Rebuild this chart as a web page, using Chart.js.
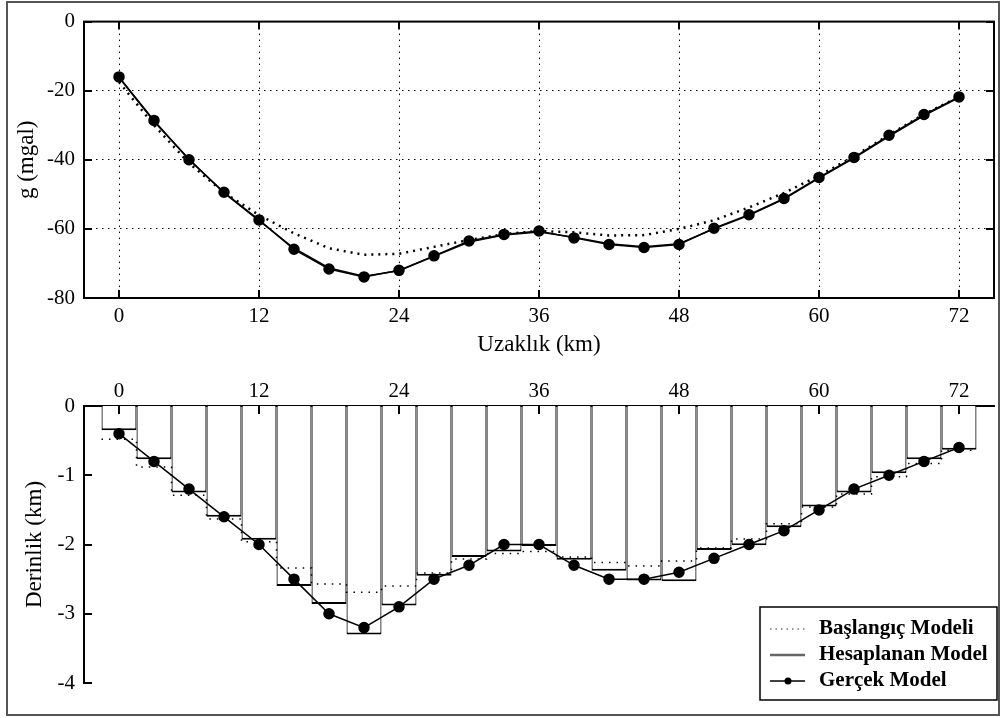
<!DOCTYPE html>
<html>
<head>
<meta charset="utf-8">
<script src="https://cdn.jsdelivr.net/npm/chart.js@4.4.0/dist/chart.umd.min.js"></script>
<style>
  body { margin: 0; background: #fff; }
  #frame { position: absolute; left: 6px; top: 1px; width: 990px; height: 711px; border: 2px solid #555; }
  .box { position: absolute; left: 0; }
  #gravityBox { top: 0; }
  #depthBox { top: 360px; }
</style>
</head>
<body>
<div id="frame"></div>
<div class="box" id="gravityBox"><canvas id="gravityChart" width="1001" height="360"></canvas></div>
<div class="box" id="depthBox"><canvas id="depthChart" width="1001" height="358"></canvas></div>
<script>
// stations (km)
const stations = [0, 3, 6, 9, 12, 15, 18, 21, 24, 27, 30, 33, 36, 39, 42, 45, 48, 51, 54, 57, 60, 63, 66, 69, 72];
const prismWidth = 3;

const xTicks = [0, 12, 24, 36, 48, 60, 72];
const gravityTicks = [0, -20, -40, -60, -80];
const depthTicks = [0, -1, -2, -3, -4];

// gravity anomaly (mgal)
const gravityInitial = [-17.5, -30.0, -41.0, -49.5, -56.0, -61.3, -65.6, -67.5, -67.2, -65.2, -63.2, -61.5, -60.6,
  -61.0, -61.9, -61.8, -60.0, -57.5, -53.8, -49.6, -44.6, -39.0, -32.8, -26.8, -21.8];
const gravityCalculated = [-16.2, -28.9, -39.8, -49.6, -57.6, -65.6, -71.3, -73.7, -72.1, -67.9, -63.8, -61.8, -60.9,
  -62.4, -64.3, -65.2, -64.3, -60.0, -56.1, -51.4, -45.3, -39.5, -33.2, -27.2, -22.0];
const gravityObserved = [-16.0, -28.6, -40.0, -49.4, -57.4, -65.9, -71.6, -73.9, -72.0, -67.8, -63.5, -61.6, -60.6,
  -62.6, -64.5, -65.4, -64.5, -59.8, -55.9, -51.2, -45.1, -39.3, -32.9, -26.9, -21.8];

// depth of prisms (km)
const depthInitial = [-0.48, -0.88, -1.29, -1.63, -1.96, -2.34, -2.57, -2.69, -2.60, -2.41, -2.21, -2.13, -2.10,
  -2.18, -2.26, -2.31, -2.24, -2.05, -1.92, -1.70, -1.46, -1.27, -1.02, -0.83, -0.64];
const depthCalculated = [-0.35, -0.77, -1.25, -1.60, -1.93, -2.60, -2.86, -3.30, -2.88, -2.45, -2.18, -2.10, -2.02,
  -2.22, -2.38, -2.52, -2.53, -2.08, -2.01, -1.75, -1.45, -1.25, -0.97, -0.77, -0.63];
const depthReal = [-0.4, -0.8, -1.2, -1.6, -2.0, -2.5, -3.0, -3.2, -2.9, -2.5, -2.3, -2.0, -2.0,
  -2.3, -2.5, -2.5, -2.4, -2.2, -2.0, -1.8, -1.5, -1.2, -1.0, -0.8, -0.6];

const serif = "'Liberation Serif', 'Times New Roman', serif";
const tickFont = { family: serif, size: 21 };
const titleFont = { family: serif, size: 23 };

const pts = vals => stations.map((x, i) => ({ x: x, y: vals[i] }));
// horizontal step over each prism
const steps = vals => stations.flatMap((x, i) => [
  { x: x - prismWidth / 2, y: vals[i] },
  { x: x + prismWidth / 2, y: vals[i] }
]);
const setTicks = list => scale => { scale.ticks = list.map(v => ({ value: v })); };

// box + inward tick marks, MATLAB style
const axisFrame = {
  id: 'axisFrame',
  afterDraw(chart, args, opts) {
    const { ctx, chartArea: a, scales: { x, y } } = chart;
    const len = 8;
    ctx.save();
    ctx.strokeStyle = '#000';
    if (opts.box) {
      ctx.lineWidth = 2;
      ctx.strokeRect(a.left, a.top, a.right - a.left, a.bottom - a.top);
    }
    ctx.lineWidth = 2;
    ctx.beginPath();
    x.ticks.forEach(t => {
      const px = Math.round(x.getPixelForValue(t.value));
      opts.xSides.forEach(s => {
        const py = s === 'top' ? a.top : a.bottom;
        ctx.moveTo(px, py);
        ctx.lineTo(px, py + (s === 'top' ? len : -len));
      });
    });
    y.ticks.forEach(t => {
      const py = Math.round(y.getPixelForValue(t.value));
      opts.ySides.forEach(s => {
        const px = s === 'left' ? a.left : a.right;
        ctx.moveTo(px, py);
        ctx.lineTo(px + (s === 'left' ? len : -len), py);
      });
    });
    ctx.stroke();
    ctx.restore();
  }
};

const boxLegend = {
  id: 'boxLegend',
  afterDraw(chart, args, opts) {
    const { ctx, chartArea: a } = chart;
    const items = chart.data.datasets.slice().sort((p, q) => p.legendRank - q.legendRank);
    const left = a.left + 676, top = a.top + 201, w = 237, h = 93;
    ctx.save();
    ctx.fillStyle = '#fff';
    ctx.fillRect(left, top, w, h);
    ctx.strokeStyle = '#000';
    ctx.lineWidth = 1.5;
    ctx.strokeRect(left, top, w, h);
    ctx.font = 'bold 21px ' + serif;
    ctx.textBaseline = 'middle';
    items.forEach((d, i) => {
      const cy = top + 22 + i * 26;
      ctx.beginPath();
      ctx.strokeStyle = d.legendColor;
      ctx.lineWidth = d.legendWidth;
      ctx.setLineDash(d.legendDash || []);
      ctx.moveTo(left + 10, cy);
      ctx.lineTo(left + 45, cy);
      ctx.stroke();
      ctx.setLineDash([]);
      if (d.legendDot) {
        ctx.beginPath();
        ctx.fillStyle = '#000';
        ctx.arc(left + 28, cy, 3.5, 0, Math.PI * 2);
        ctx.fill();
      }
      ctx.fillStyle = '#000';
      ctx.fillText(d.label, left + 59, cy);
    });
    ctx.restore();
  }
};

Chart.defaults.font.family = serif;
Chart.defaults.color = '#000';

const gravityChart = new Chart(document.getElementById('gravityChart'), {
  type: 'line',
  data: {
    datasets: [{
      label: 'Gerçek Model',
      data: pts(gravityObserved),
      borderColor: '#000',
      borderWidth: 1.5,
      pointRadius: 5,
      pointBackgroundColor: '#000',
      pointBorderColor: '#000',
      order: 1
    }, {
      label: 'Hesaplanan Model',
      data: pts(gravityCalculated),
      borderColor: '#000',
      borderWidth: 1.5,
      pointRadius: 0,
      order: 2
    }, {
      label: 'Başlangıç Modeli',
      data: pts(gravityInitial),
      borderColor: '#000',
      borderWidth: 2.5,
      borderDash: [2, 5],
      pointRadius: 0,
      order: 3
    }]
  },
  options: {
    responsive: false,
    animation: false,
    layout: { padding: { left: 0, right: 7, top: 20, bottom: 0 } },
    plugins: {
      legend: { display: false },
      tooltip: { enabled: false },
      axisFrame: { box: true, xSides: ['top', 'bottom'], ySides: ['left', 'right'] }
    },
    scales: {
      x: {
        type: 'linear', min: -3, max: 75,
        afterBuildTicks: setTicks(xTicks),
        afterFit: s => { s.height = 62; },
        grid: { color: '#000', lineWidth: 1, drawTicks: false },
        border: { display: false, dash: [1.5, 4.5] },
        ticks: { font: tickFont, padding: 6, maxRotation: 0, autoSkip: false },
        title: { display: true, text: 'Uzaklık (km)', font: titleFont, padding: { top: 0, bottom: 1 } }
      },
      y: {
        min: -80, max: 0,
        afterBuildTicks: setTicks(gravityTicks),
        afterFit: s => { s.width = 84; },
        grid: { color: '#000', lineWidth: 1, drawTicks: false },
        border: { display: false, dash: [1.5, 4.5] },
        ticks: { font: tickFont, padding: 9 },
        title: { display: true, text: 'g (mgal)', font: titleFont, padding: { top: 13, bottom: 0 } }
      }
    }
  },
  plugins: [axisFrame]
});

const depthChart = new Chart(document.getElementById('depthChart'), {
  type: 'bar',
  data: {
    datasets: [{
      type: 'line',
      label: 'Gerçek Model',
      data: pts(depthReal),
      borderColor: '#000',
      borderWidth: 1.5,
      pointRadius: 5,
      pointBackgroundColor: '#000',
      pointBorderColor: '#000',
      order: 1,
      legendRank: 3, legendColor: '#000', legendWidth: 1.5, legendDot: true
    }, {
      type: 'line',
      label: 'Başlangıç Modeli',
      data: steps(depthInitial),
      borderColor: '#000',
      borderWidth: 1.5,
      borderDash: [1.5, 6],
      pointRadius: 0,
      order: 2,
      legendRank: 1, legendColor: '#777', legendWidth: 1.5, legendDash: [1.5, 4]
    }, {
      type: 'bar',
      label: 'Hesaplanan Model',
      data: pts(depthCalculated),
      backgroundColor: '#fff',
      borderColor: '#000',
      borderWidth: { left: 1.2, right: 1.2, bottom: 2, top: 0 },
      borderSkipped: 'start',
      inflateAmount: 0,
      barPercentage: 1,
      categoryPercentage: 1,
      order: 3,
      legendRank: 2, legendColor: '#666', legendWidth: 2.5
    }]
  },
  options: {
    responsive: false,
    animation: false,
    layout: { padding: { left: 0, right: 7, top: 0, bottom: 35 } },
    plugins: {
      legend: { display: false },
      tooltip: { enabled: false },
      axisFrame: { box: false, xSides: ['top'], ySides: ['left'] }
    },
    scales: {
      x: {
        type: 'linear', position: 'top', min: -3, max: 75, offset: false,
        afterBuildTicks: setTicks(xTicks),
        afterFit: s => { s.height = 46; },
        grid: { display: false, drawTicks: false, offset: false },
        border: { display: true, color: '#000', width: 2 },
        ticks: { font: tickFont, padding: 2, maxRotation: 0, autoSkip: false }
      },
      y: {
        min: -4, max: 0,
        afterBuildTicks: setTicks(depthTicks),
        afterFit: s => { s.width = 84; },
        grid: { display: false, drawTicks: false },
        border: { display: true, color: '#000', width: 2 },
        ticks: { font: tickFont, padding: 9 },
        title: { display: true, text: 'Derinlik (km)', font: titleFont, padding: { top: 21, bottom: 0 } }
      }
    }
  },
  plugins: [axisFrame, boxLegend]
});
</script>
</body>
</html>
